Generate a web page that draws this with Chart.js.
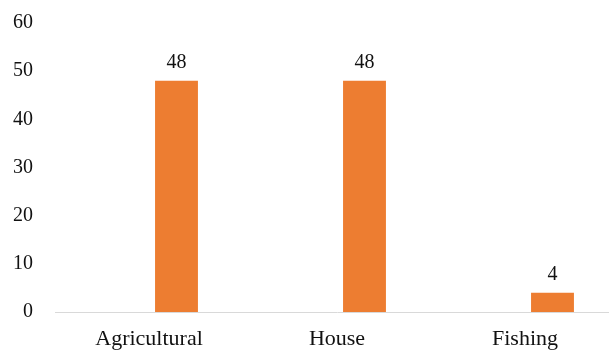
<!DOCTYPE html>
<html>
<head>
<meta charset="utf-8">
<script src="https://cdn.jsdelivr.net/npm/chart.js@4/dist/chart.umd.min.js"></script>
<style>
html,body{margin:0;padding:0;background:#fff;overflow:hidden;width:609px;height:353px;}
canvas{display:block;}
</style>
</head>
<body>
<canvas id="c" width="630" height="353" style="width:630px;height:353px"></canvas>
<script>
const categories = ["Agricultural", "House", "Fishing"];
const values = [48, 48, 4];
const emptySeries = [null, null, null];
const yTicks = [0, 10, 20, 30, 40, 50, 60];

const FONT = "'Liberation Serif', 'Times New Roman', serif";

const labelPlugin = {
  id: 'barLabels',
  afterDatasetsDraw(chart) {
    const ctx = chart.ctx;
    const meta = chart.getDatasetMeta(1);
    ctx.save();
    ctx.font = "20px " + FONT;
    ctx.fillStyle = "#111";
    ctx.textAlign = "center";
    ctx.textBaseline = "alphabetic";
    meta.data.forEach((bar, i) => {
      ctx.fillText(String(values[i]), bar.x, bar.y - 13);
    });
    ctx.restore();
  }
};

new Chart(document.getElementById('c'), {
  type: 'bar',
  data: {
    labels: categories,
    datasets: [
      { data: emptySeries, backgroundColor: '#4472C4' },
      { data: values, backgroundColor: '#ED7D31' }
    ]
  },
  options: {
    responsive: false,
    devicePixelRatio: 1,
    animation: false,
    layout: { padding: { left: 12, right: 11, top: 23, bottom: 0 } },
    plugins: { legend: { display: false }, tooltip: { enabled: false } },
    datasets: { bar: { categoryPercentage: 0.585, barPercentage: 0.78 } },
    scales: {
      x: {
        afterFit(scale) { scale.height = 41; scale.paddingLeft = 0; scale.paddingRight = 0; },
        grid: { display: false, drawTicks: false },
        border: { display: true, color: '#d9d9d9', width: 1 },
        ticks: { color: '#111', font: { family: FONT, size: 22 }, padding: 14, maxRotation: 0 }
      },
      y: {
        min: 0, max: 60,
        afterBuildTicks(scale) { scale.ticks = yTicks.map(v => ({ value: v })); },
        afterFit(scale) { scale.width = 43; scale.paddingTop = 0; scale.paddingBottom = 0; },
        grid: { display: false, drawTicks: false },
        border: { display: false },
        ticks: { color: '#111', font: { family: FONT, size: 20 }, padding: 22 }
      }
    }
  },
  plugins: [labelPlugin]
});
</script>
</body>
</html>
